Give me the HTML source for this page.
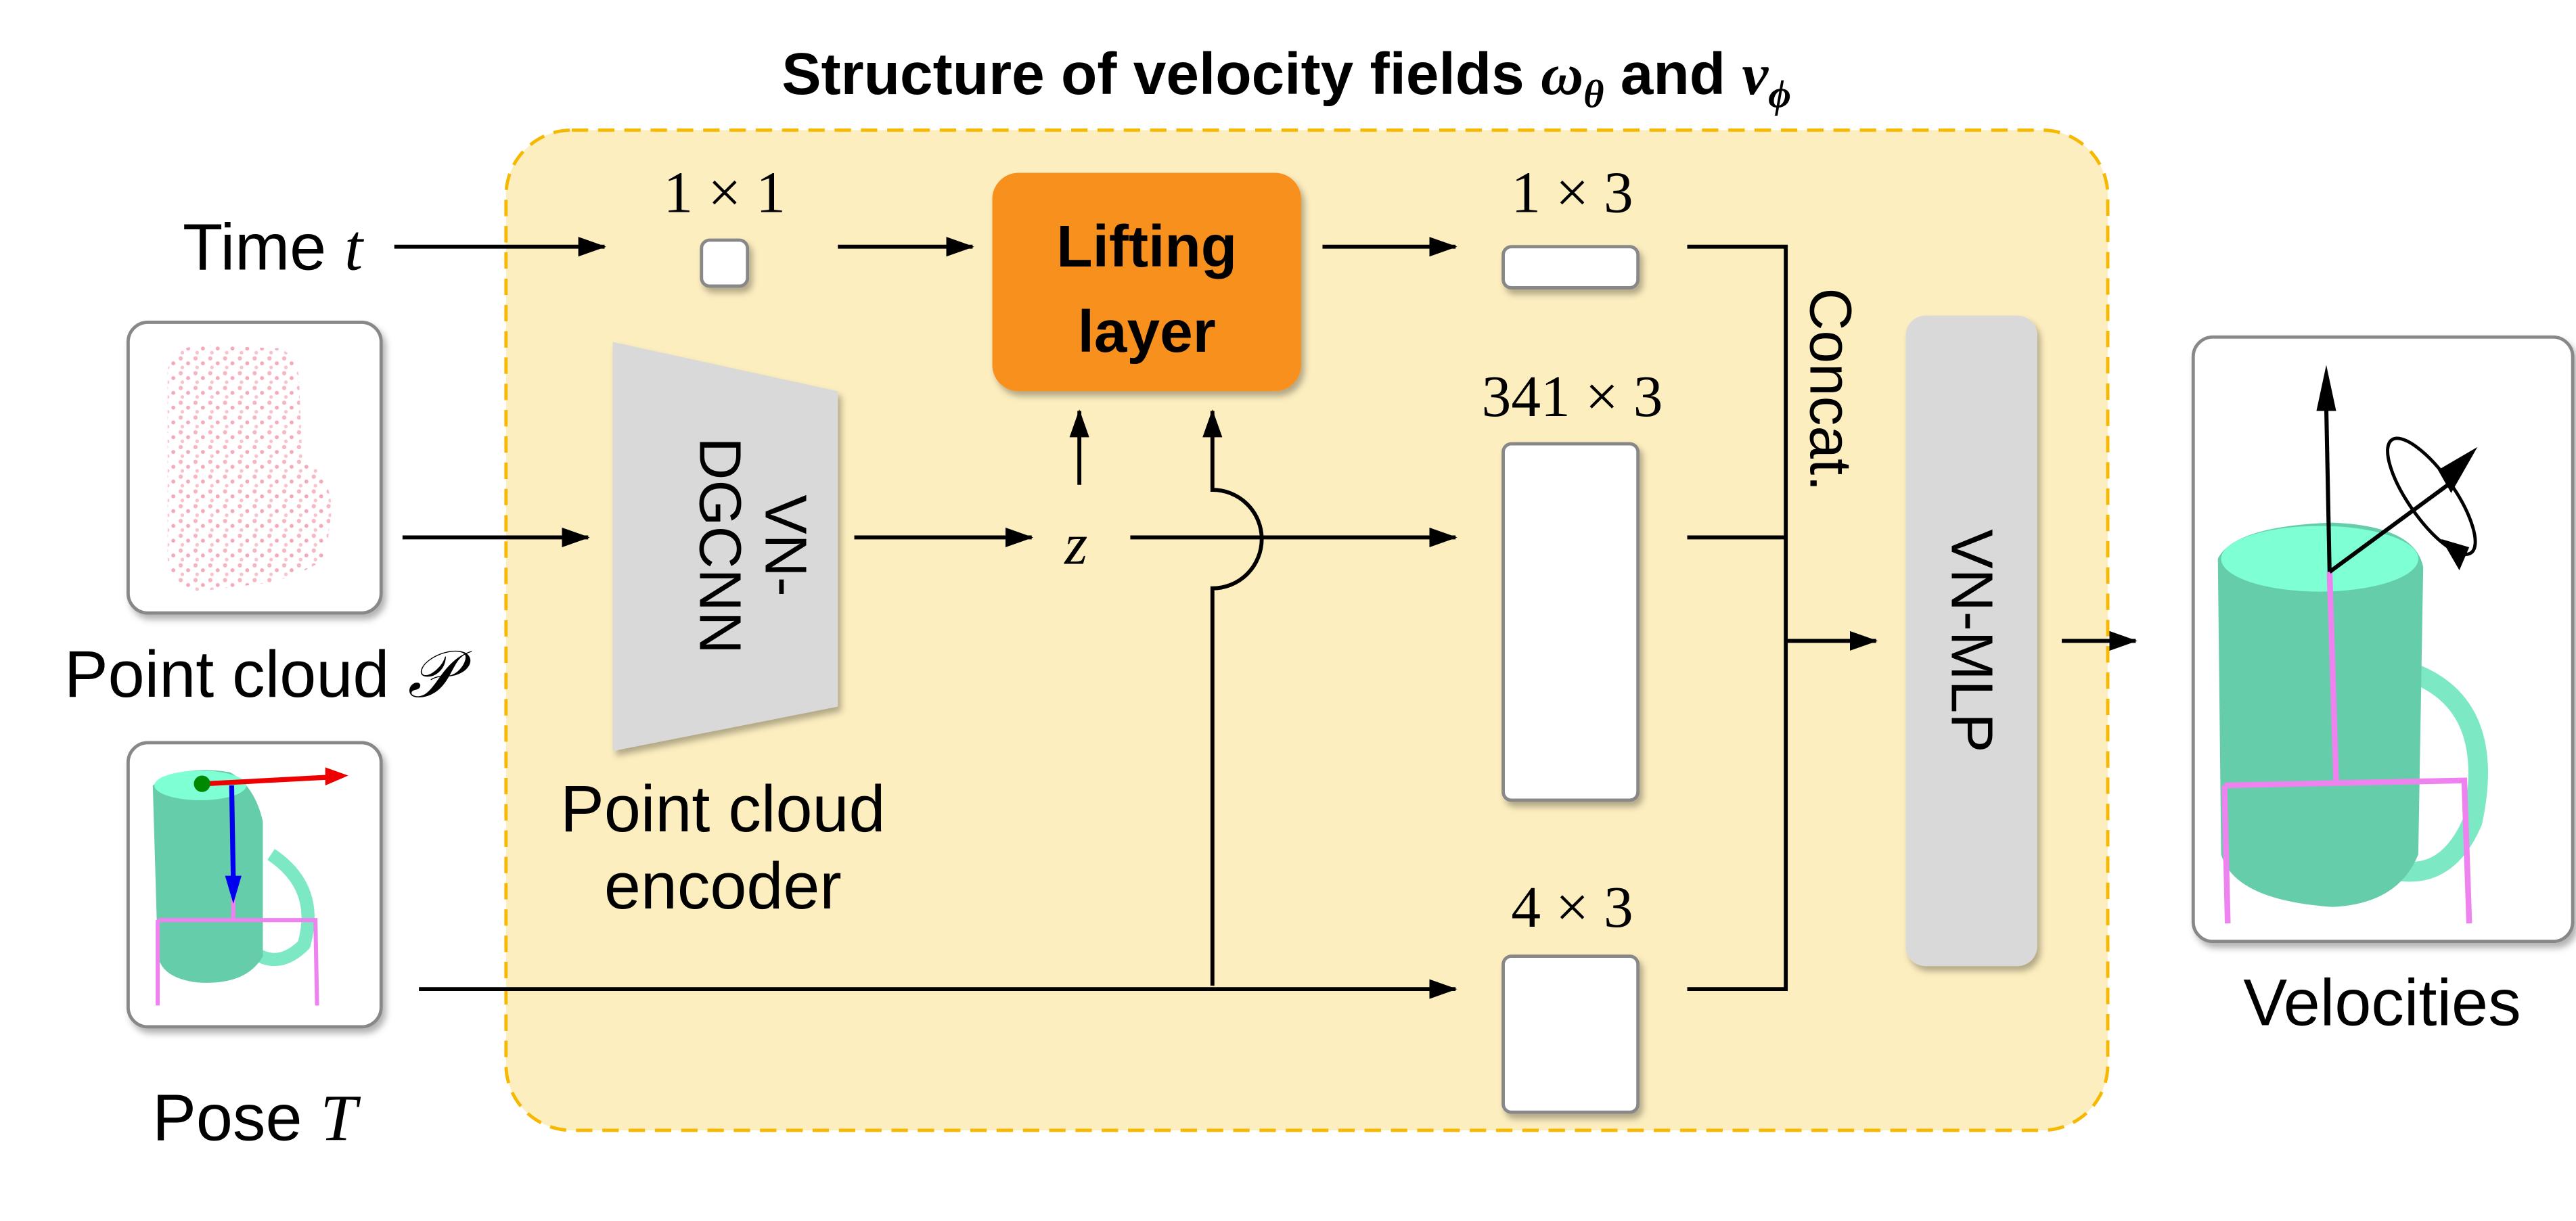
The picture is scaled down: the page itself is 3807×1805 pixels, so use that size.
<!DOCTYPE html>
<html><head><meta charset="utf-8"><style>
html,body{margin:0;padding:0;background:#fff}
svg{display:block}
.s{font-family:"Liberation Sans",sans-serif}
.m{font-family:"Liberation Serif","DejaVu Serif",serif}
</style></head><body>
<svg width="3807" height="1805" viewBox="0 0 1568 743" xmlns="http://www.w3.org/2000/svg">
<defs>
<marker id="a" markerWidth="17" markerHeight="12" refX="16" refY="6" orient="auto" markerUnits="userSpaceOnUse"><path d="M0,0 L17,6 L0,12 Z" fill="#000"/></marker>
<filter id="sh" x="-20%" y="-20%" width="150%" height="150%"><feDropShadow dx="2" dy="3" stdDeviation="2" flood-color="#000" flood-opacity="0.3"/></filter>
<pattern id="dots" width="9" height="9" patternUnits="userSpaceOnUse"><circle cx="2" cy="2" r="1.3" fill="#f7b6c2"/><circle cx="6.5" cy="5" r="1.2" fill="#f5a9b8"/><circle cx="3" cy="7.5" r="1.1" fill="#f9c2cc"/></pattern>
</defs>
<text x="783" y="57" text-anchor="middle" class="s" font-weight="bold" font-size="36">Structure of velocity fields <tspan class="m" font-style="italic">ω</tspan><tspan class="m" font-style="italic" font-size="24" dy="8">θ</tspan><tspan dy="-8"> and </tspan><tspan class="m" font-style="italic">v</tspan><tspan class="m" font-style="italic" font-size="24" dy="8">ϕ</tspan></text>
<rect x="308" y="79" width="975" height="609" rx="40" fill="#fdeebf" stroke="#f6b800" stroke-width="2" stroke-dasharray="10,6"/>
<g stroke="#000" stroke-width="2.4" fill="none">
<line x1="240" y1="150" x2="368" y2="150" marker-end="url(#a)"/>
<line x1="510" y1="150" x2="592" y2="150" marker-end="url(#a)"/>
<line x1="805" y1="150" x2="886" y2="150" marker-end="url(#a)"/>
<line x1="245" y1="327" x2="358" y2="327" marker-end="url(#a)"/>
<line x1="520" y1="327" x2="628" y2="327" marker-end="url(#a)"/>
<line x1="688" y1="327" x2="886" y2="327" marker-end="url(#a)"/>
<line x1="657" y1="295" x2="657" y2="250" marker-end="url(#a)"/>
<path d="M738,600 L738,358 A30,30 0 0 0 738,298 L738,250" marker-end="url(#a)"/>
<line x1="255" y1="602" x2="886" y2="602" marker-end="url(#a)"/>
<path d="M1027,150 H1087 V602 H1027 M1027,327 H1087"/>
<line x1="1087" y1="390" x2="1142" y2="390" marker-end="url(#a)"/>
<line x1="1255" y1="390" x2="1300" y2="390" marker-end="url(#a)"/>
</g>
<text x="166" y="164" text-anchor="middle" class="s" font-size="40">Time <tspan class="m" font-style="italic">t</tspan></text>
<text x="441" y="129" text-anchor="middle" class="m" font-size="36">1 × 1</text>
<rect x="427" y="146" width="28" height="28" rx="5" fill="#fff" stroke="#888" stroke-width="2" filter="url(#sh)"/>
<rect x="604" y="105" width="188" height="133" rx="16" fill="#f7901e" filter="url(#sh)"/>
<text x="698" y="162" text-anchor="middle" class="s" font-weight="bold" font-size="36">Lifting</text>
<text x="698" y="214" text-anchor="middle" class="s" font-weight="bold" font-size="36">layer</text>
<text x="957" y="129" text-anchor="middle" class="m" font-size="36">1 × 3</text>
<rect x="915" y="150" width="82" height="25" rx="5" fill="#fff" stroke="#888" stroke-width="2" filter="url(#sh)"/>
<text x="957" y="253" text-anchor="middle" class="m" font-size="36">341 × 3</text>
<rect x="915" y="270" width="82" height="217" rx="5" fill="#fff" stroke="#888" stroke-width="2" filter="url(#sh)"/>
<text x="957" y="564" text-anchor="middle" class="m" font-size="36">4 × 3</text>
<rect x="915" y="582" width="82" height="95" rx="5" fill="#fff" stroke="#888" stroke-width="2" filter="url(#sh)"/>
<polygon points="373,208 510,238 510,430 373,457" fill="#d9d9d9" filter="url(#sh)"/>
<text transform="translate(456,332) rotate(90)" text-anchor="middle" class="s" font-size="36"><tspan x="0" dy="-10">VN-</tspan><tspan x="0" dy="40">DGCNN</tspan></text>
<text x="440" y="506" text-anchor="middle" class="s" font-size="40">Point cloud</text>
<text x="440" y="553" text-anchor="middle" class="s" font-size="40">encoder</text>
<text x="655" y="343" text-anchor="middle" class="m" font-style="italic" font-size="36">z</text>
<text transform="translate(1102,237) rotate(90)" text-anchor="middle" class="s" font-size="36">Concat.</text>
<rect x="1160" y="192" width="80" height="396" rx="12" fill="#d9d9d9" filter="url(#sh)"/>
<text transform="translate(1200,390) rotate(90)" text-anchor="middle" class="s" font-size="36" dy="12">VN-MLP</text>
<rect x="78" y="196" width="154" height="177" rx="12" fill="#fff" stroke="#888" stroke-width="2" filter="url(#sh)"/>
<path d="M102,225 Q105,210 125,210 L170,212 Q180,215 182,230 L184,280 Q200,285 202,310 L198,340 Q180,352 160,355 L120,360 Q103,355 102,340 Z" fill="url(#dots)"/>
<text x="158" y="424" text-anchor="middle" class="s" font-size="40">Point cloud <tspan class="m" font-style="italic">𝒫</tspan></text>
<rect x="78" y="452" width="154" height="173" rx="12" fill="#fff" stroke="#888" stroke-width="2" filter="url(#sh)"/>
<path d="M165,520 Q195,540 185,575 Q170,590 155,580" fill="none" stroke="#7de8c4" stroke-width="8"/>
<path d="M93,478 Q110,465 140,470 Q155,478 160,500 L160,582 Q150,600 120,598 Q97,595 96,580 Z" fill="#66cdaa"/>
<ellipse cx="122" cy="478" rx="28" ry="9" fill="#7fffd4"/>
<path d="M96,560 L96,612 M96,560 L192,560 L193,612 M142,530 L142,560" stroke="#ee82ee" stroke-width="2.5" fill="none"/>
<line x1="125" y1="477" x2="200" y2="473" stroke="#e00" stroke-width="3"/><polygon points="198,467 212,472 198,478" fill="#e00"/>
<line x1="141" y1="478" x2="142" y2="535" stroke="#00e" stroke-width="3"/><polygon points="137,533 142,550 147,533" fill="#00e"/>
<circle cx="123" cy="477" r="5" fill="#080"/>
<text x="155" y="694" text-anchor="middle" class="s" font-size="40">Pose <tspan class="m" font-style="italic">T</tspan></text>
<rect x="1335" y="205" width="231" height="368" rx="12" fill="#fff" stroke="#888" stroke-width="2" filter="url(#sh)"/>
<path d="M1470,410 Q1520,430 1505,500 Q1490,535 1460,530" fill="none" stroke="#7de8c4" stroke-width="12"/>
<path d="M1350,340 Q1360,320 1420,318 Q1470,320 1475,345 L1472,520 Q1460,550 1420,552 Q1360,548 1352,520 Z" fill="#66cdaa"/>
<ellipse cx="1412" cy="340" rx="60" ry="20" fill="#7fffd4"/>
<path d="M1354,478 L1356,562 M1354,478 L1500,475 L1503,562 M1418,348 L1422,476" stroke="#ee82ee" stroke-width="3.5" fill="none"/>
<line x1="1418" y1="348" x2="1416" y2="248" stroke="#000" stroke-width="2.5"/><polygon points="1410,250 1416,222 1422,250" fill="#000"/>
<line x1="1418" y1="348" x2="1490" y2="295" stroke="#000" stroke-width="2.5"/><polygon points="1484,286 1508,272 1492,300" fill="#000"/>
<ellipse cx="1480" cy="302" rx="14" ry="42" transform="rotate(-35 1480 302)" fill="none" stroke="#000" stroke-width="2"/>
<polygon points="1486,328 1497,347 1503,333" fill="#000"/>
<text x="1450" y="624" text-anchor="middle" class="s" font-size="40">Velocities</text>
</svg>
</body></html>
